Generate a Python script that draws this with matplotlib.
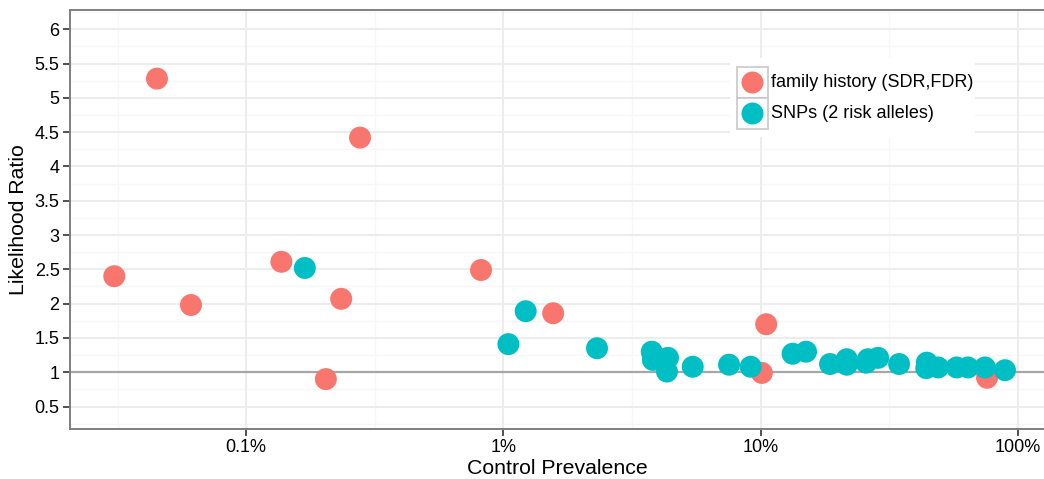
import numpy as np
import matplotlib.pyplot as plt
from matplotlib.patches import Rectangle
from matplotlib.ticker import FixedLocator, NullFormatter

plt.rcParams['font.family'] = ['Liberation Sans', 'DejaVu Sans']

# control prevalence (%) and likelihood ratio
fam_prev = [0.0307, 0.045, 0.061, 0.137, 0.204, 0.234, 0.277, 0.818, 1.56, 10.1, 10.5, 75.8]
fam_lr = [2.40, 5.28, 1.98, 2.61, 0.90, 2.07, 4.42, 2.49, 1.86, 0.99, 1.70, 0.92]

snp_prev = [0.169, 1.045, 1.22, 2.31, 3.77, 3.81, 4.36, 4.32, 5.44, 7.53, 9.14,
            13.3, 15.0, 18.6, 21.6, 21.6, 25.7, 26.1, 28.6, 34.5, 44.2, 44.0,
            48.9, 57.8, 63.9, 74.4, 89.0]
snp_lr = [2.52, 1.41, 1.89, 1.35, 1.30, 1.18, 1.21, 1.01, 1.08, 1.11, 1.08,
          1.27, 1.30, 1.12, 1.19, 1.11, 1.14, 1.19, 1.21, 1.12, 1.14, 1.06,
          1.07, 1.07, 1.07, 1.07, 1.03]

series = ['family history (SDR,FDR)', 'SNPs (2 risk alleles)']
colors = ['#F8766D', '#00BFC4']

x_ticks = [0.1, 1, 10, 100]
x_labels = ['0.1%', '1%', '10%', '100%']
y_ticks = [0.5, 1, 1.5, 2, 2.5, 3, 3.5, 4, 4.5, 5, 5.5, 6]

fig = plt.figure(figsize=(10.44, 4.79), dpi=100)
ax = fig.add_axes([0.067, 0.1044, 0.933, 0.8747])

ax.set_xscale('log')
ax.set_xlim(0.02065, 126.2)
ax.set_ylim(0.173, 6.28)

# grid: major at ticks, minor halfway between
x_minor = [10 ** (e + 0.5) for e in range(-2, 3)]
y_minor = [v + 0.25 for v in [0] + y_ticks]
for xm in x_minor:
    ax.axvline(xm, color='#F7F7F7', lw=1.0, zorder=0)
for ym in y_minor:
    ax.axhline(ym, color='#F7F7F7', lw=1.0, zorder=0)
for xv in x_ticks:
    ax.axvline(xv, color='#EBEBEB', lw=1.3, zorder=0)
for yv in y_ticks:
    ax.axhline(yv, color='#EBEBEB', lw=1.3, zorder=0)

ax.axhline(1, color='#A6A6A6', lw=1.6, zorder=1)

ax.scatter(fam_prev, fam_lr, s=250, color=colors[0], edgecolors='none', zorder=2)
ax.scatter(snp_prev, snp_lr, s=250, color=colors[1], edgecolors='none', zorder=3)

ax.xaxis.set_major_locator(FixedLocator(x_ticks))
ax.xaxis.set_minor_locator(FixedLocator([]))
ax.xaxis.set_minor_formatter(NullFormatter())
ax.set_xticklabels(x_labels)
ax.set_yticks(y_ticks)
ax.set_yticklabels(['%g' % v for v in y_ticks])
ax.tick_params(axis='both', which='major', length=5, width=1.2, color='#333333',
               labelsize=13, labelcolor='black', direction='out', pad=2.5)

for side in ['left', 'bottom', 'top']:
    ax.spines[side].set_color('#7F7F7F')
    ax.spines[side].set_linewidth(1.4)
ax.spines['right'].set_visible(False)

ax.set_xlabel('Control Prevalence', fontsize=15.3, labelpad=2)
ax.set_ylabel('Likelihood Ratio', fontsize=15.3, labelpad=5)

# legend box drawn in axes coordinates
bx = ax.transAxes.inverted()
def to_ax(px, py):
    return bx.transform(fig.transFigure.transform((px / 1044, 1 - py / 479)))

x0, y0 = to_ax(730, 137)
x1, y1 = to_ax(975, 58)
ax.add_patch(Rectangle((x0, y0), x1 - x0, y1 - y0, transform=ax.transAxes,
                       facecolor='white', edgecolor='none', zorder=4))
for i, (lab, col) in enumerate(zip(series, colors)):
    kx0, ky0 = to_ax(737, 98 + 31 * i)
    kx1, ky1 = to_ax(768, 67 + 31 * i)
    ax.add_patch(Rectangle((kx0, ky0), kx1 - kx0, ky1 - ky0, transform=ax.transAxes,
                           facecolor='white', edgecolor='#C8C8C8', lw=1.2, zorder=5))
    ax.scatter([(kx0 + kx1) / 2], [(ky0 + ky1) / 2], s=250, color=col,
               edgecolors='none', transform=ax.transAxes, zorder=6, clip_on=False)
    tx, ty = to_ax(771, 82.5 + 31 * i)
    ax.text(tx, ty, lab, transform=ax.transAxes, fontsize=13, va='center',
            ha='left', zorder=6)

fig.savefig('out.png', dpi=100)
